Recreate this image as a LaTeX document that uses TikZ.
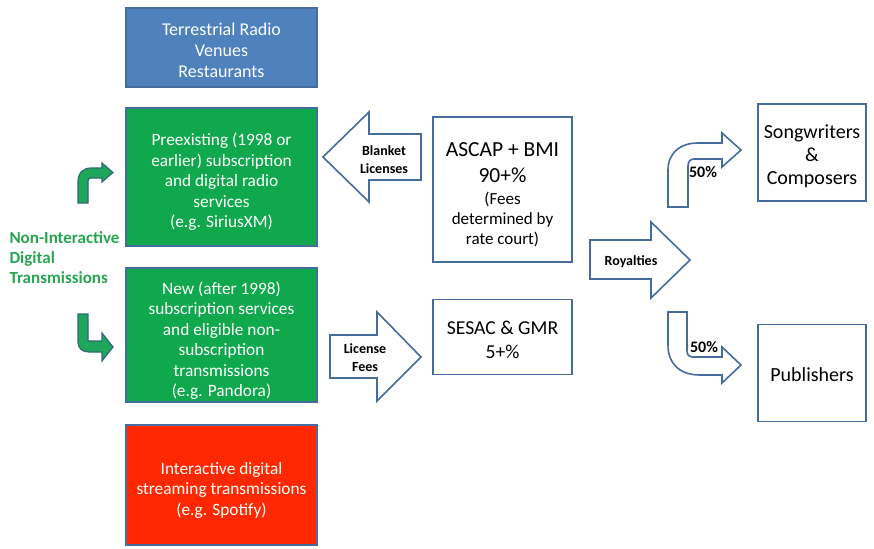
\documentclass[tikz,border=0pt]{standalone}
\usepackage{fontspec}
\setmainfont{Carlito}
\usetikzlibrary{positioning}

\definecolor{boxblue}{RGB}{79,129,189}
\definecolor{lineblue}{RGB}{70,108,158}
\definecolor{boxgreen}{RGB}{16,168,76}
\definecolor{arrowgreen}{RGB}{30,166,90}
\definecolor{arrowline}{RGB}{45,105,120}
\definecolor{boxred}{RGB}{255,40,0}
\definecolor{labelgreen}{RGB}{40,165,80}

\tikzset{
  market/.style={draw=lineblue, line width=1.4pt, minimum width=191pt},
  markettext/.style={align=center, text=white, font=\fontsize{17.3}{20.5}\selectfont},
  society/.style={draw=lineblue, line width=1.6pt, fill=white},
  societytext/.style={align=center},
  bigarrow/.style={draw=lineblue, line width=1.6pt, fill=white, line join=miter},
  greenarrow/.style={draw=arrowline, line width=1.2pt, fill=arrowgreen},
  arrowtext/.style={font=\bfseries\fontsize{14}{18}\selectfont, align=center}
}

\begin{document}
\begin{tikzpicture}[x=1pt, y=-1pt]
  \useasboundingbox (0,0) rectangle (874,548);

  % licensees
  \node[market, fill=boxblue, minimum height=79pt] (terr) at (221.5,47.5) {};
  \node[markettext, font=\fontsize{18}{21}\selectfont] (terr-t) at ([yshift=-3pt]terr)
    {Terrestrial Radio\\Venues\\Restaurants};
  \node[market, fill=boxgreen, minimum height=138pt] (pre) at (221.5,177) {};
  \node[markettext] (pre-t) at ([yshift=-5pt]pre)
    {Preexisting (1998 or\\earlier) subscription\\and digital radio\\services\\(e.g. SiriusXM)};
  \node[market, fill=boxgreen, minimum height=134pt] (new) at (221.5,335) {};
  \node[markettext] (new-t) at ([yshift=-5.5pt]new)
    {New (after 1998)\\subscription services\\and eligible non-\\subscription\\transmissions\\(e.g. Pandora)};
  \node[market, fill=boxred, minimum height=120pt] (inter) at (221.5,485) {};
  \node[markettext] (inter-t) at ([yshift=-5pt]inter)
    {Interactive digital\\streaming transmissions\\(e.g. Spotify)};

  \node[anchor=west, align=left, text=labelgreen,
    font=\bfseries\fontsize{17}{20}\selectfont] (nonint) at (6,258)
    {Non-Interactive\\Digital\\Transmissions};

  % societies
  \node[society, minimum width=139pt, minimum height=145pt] (ascap) at (502.5,189.5) {};
  \node[societytext, font=\fontsize{17}{20}\selectfont] (ascap-t) at ([yshift=-5pt]ascap)
    {{\fontsize{21.5}{20}\selectfont ASCAP + BMI}\\[6pt]{\fontsize{21.5}{20}\selectfont 90+\%}\\[2pt](Fees\\determined by\\rate court)};
  \node[society, minimum width=139pt, minimum height=75pt, below=36pt of ascap] (sesac) {};
  \node[societytext, font=\fontsize{19.7}{24}\selectfont] (sesac-t) at ([yshift=-3pt]sesac)
    {SESAC \& GMR\\5+\%};

  % rights holders
  \node[society, minimum width=108pt, minimum height=97pt] (song) at (812,152.5) {};
  \node[societytext, font=\fontsize{20}{23}\selectfont] (song-t) at ([yshift=-4pt]song)
    {Songwriters\\\&\\Composers};
  \node[society, minimum width=108pt, minimum height=97pt, below=122pt of song] (pub) {};
  \node[societytext, font=\fontsize{20}{23}\selectfont] (pub-t) at ([yshift=-2pt]pub)
    {Publishers};

  % green bent arrows
  \draw[greenarrow] (78,203) -- (78,182) .. controls (78,173) and (83,168) .. (91,168)
    -- (102,168) -- (102,163) -- (113,172.5) -- (102,182) -- (102,178) -- (91,178)
    .. controls (89,178) and (88,179) .. (88,181) -- (88,203) -- cycle;
  \draw[greenarrow] (78,314) -- (78,342) .. controls (78,348) and (82,352) .. (89,352)
    -- (102,352) -- (102,361) -- (113,347) -- (102,333) -- (102,341) -- (88,341)
    -- (88,314) -- cycle;

  % license arrows
  \draw[bigarrow] (421,134) -- (369,134) -- (369,112) -- (323,157) -- (369,202)
    -- (369,180) -- (421,180) -- cycle;
  \node[arrowtext] (blanket) at (384,159.5) {Blanket\\Licenses};
  \draw[bigarrow] (330,335) -- (377,335) -- (377,312) -- (421,357) -- (377,401)
    -- (377,378) -- (330,378) -- cycle;
  \node[arrowtext] (fees) at (365,358) {License\\Fees};

  % royalties
  \draw[bigarrow] (590,240) -- (651,240) -- (651,222) -- (690,260) -- (651,298)
    -- (651,279) -- (590,279) -- cycle;
  \node[arrowtext] (roy) at (631,262) {Royalties};
  \draw[bigarrow] (668,207) -- (668,170) .. controls (668,153) and (680,143) .. (698,143)
    -- (722,143) -- (722,133) -- (741,150) -- (722,167) -- (722,159) -- (694,159)
    .. controls (690,159) and (688,162) .. (688,166) -- (688,207) -- cycle;
  \node[arrowtext, font=\bfseries\fontsize{16}{18}\selectfont] (up) at (703,172) {50\%};
  \draw[bigarrow] (668,312) -- (668,345) .. controls (668,364) and (680,375) .. (700,375)
    -- (722,375) -- (722,383) -- (741,365) -- (722,347) -- (722,357) -- (692,357)
    .. controls (689,357) and (687,355) .. (687,350) -- (687,312) -- cycle;
  \node[arrowtext, font=\bfseries\fontsize{16}{18}\selectfont] (down) at (704,347) {50\%};
\end{tikzpicture}
\end{document}
